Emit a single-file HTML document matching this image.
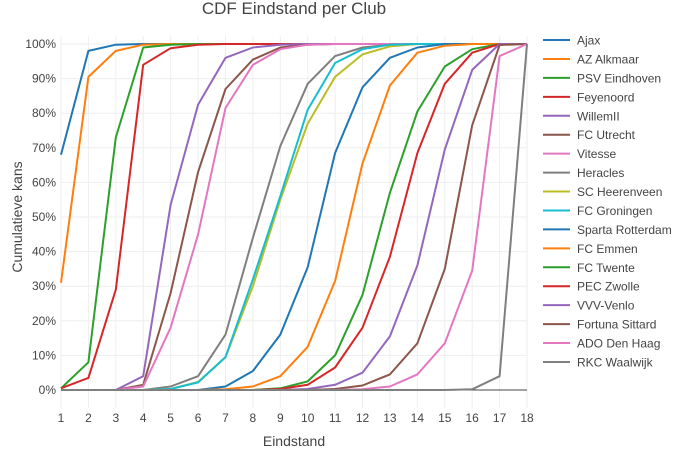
<!DOCTYPE html><html><head><style>body{margin:0;background:#fff}svg{display:block;font-family:"Liberation Sans",sans-serif}</style></head><body>
<svg id="s" width="700" height="450" xmlns="http://www.w3.org/2000/svg"></svg>
<script>
const s=document.getElementById('s');
const X0=61,XW=466/17,Y0=390,YH=346;
const x=v=>X0+(v-1)*XW, y=p=>Y0-p/100*YH;
let h='<rect width="700" height="450" fill="#fff"/>';
h+='<text x="294" y="14" font-size="17" fill="#444" text-anchor="middle">CDF Eindstand per Club</text>';
for(let i=1;i<=18;i++){h+=`<line x1="${x(i)}" x2="${x(i)}" y1="${y(100)-8}" y2="${Y0+18}" stroke="#eee"/>`;h+=`<text x="${x(i)}" y="422" font-size="12" fill="#444" text-anchor="middle">${i}</text>`;}
for(let p=0;p<=100;p+=10){h+=`<line x1="${X0}" x2="${x(18)}" y1="${y(p)}" y2="${y(p)}" stroke="${p?'#eee':'#444'}" stroke-width="1"/>`;h+=`<text x="56" y="${y(p)+4}" font-size="12" fill="#444" text-anchor="end">${p}%</text>`;}
h+=`<text x="294" y="446" font-size="14" fill="#444" text-anchor="middle">Eindstand</text>`;
h+=`<text transform="translate(22,217) rotate(-90)" font-size="14" fill="#444" text-anchor="middle">Cumulatieve kans</text>`;
const C=['#1f77b4','#ff7f0e','#2ca02c','#d62728','#9467bd','#8c564b','#e377c2','#7f7f7f','#bcbd22','#17becf'];
const D=[["Ajax",{1:68,2:98,3:99.8,4:100}],
["AZ Alkmaar",{1:31,2:90.5,3:98,4:99.8,5:100}],
["PSV Eindhoven",{1:0.5,2:8,3:73,4:99,5:99.8,6:100}],
["Feyenoord",{1:0.5,2:3.5,3:29,4:94,5:98.8,6:99.8,7:100}],
["WillemII",{3:0,4:4,5:53.5,6:82.5,7:96,8:99,9:99.8,10:100}],
["FC Utrecht",{3:0,4:1.5,5:28,6:63,7:87,8:95.5,9:99,10:99.8,11:100}],
["Vitesse",{3:0,4:1,5:18,6:45,7:81.5,8:94,9:98.5,10:99.8,11:100}],
["Heracles",{4:0,5:1,6:4,7:16,8:44,9:70.5,10:88.5,11:96.5,12:99,13:99.8,14:100}],
["SC Heerenveen",{4:0,5:0.3,6:2.3,7:9.5,8:30,9:55,10:77,11:90.5,12:97,13:99.3,14:100}],
["FC Groningen",{4:0,5:0.3,6:2.2,7:9.5,8:32,9:56,10:81,11:94.5,12:98.5,13:99.8,14:100}],
["Sparta Rotterdam",{6:0,7:1,8:5.5,9:16,10:35.5,11:68.5,12:87.5,13:96,14:99,15:100}],
["FC Emmen",{7:0.2,8:1,9:4,10:12.5,11:31.5,12:65.5,13:88,14:97.5,15:99.5,16:100}],
["FC Twente",{8:0,9:0.5,10:2.5,11:10,12:27.5,13:57,14:80.5,15:93.5,16:98.5,17:100}],
["PEC Zwolle",{8:0,9:0.3,10:1.5,11:6.5,12:18,13:38.5,14:68.5,15:88.5,16:97.5,17:100}],
["VVV-Venlo",{9:0,10:0.3,11:1.5,12:5,13:15.5,14:36,15:69.5,16:92.5,17:100}],
["Fortuna Sittard",{10:0,11:0.3,12:1.3,13:4.5,14:13.5,15:35,16:76.5,17:99.7,18:100}],
["ADO Den Haag",{11:0,12:0.2,13:1,14:4.5,15:13.5,16:34.5,17:96.5,18:100}],
["RKC Waalwijk",{15:0,16:0.2,17:4,18:100}]];
let lg='';
D.forEach(([n,m],i)=>{const c=C[i%10];let pts=[];
for(let k=1;k<=18;k++){let v=(k in m)?m[k]:(k<Math.min(...Object.keys(m).map(Number))?0:100);pts.push(x(k).toFixed(1)+','+y(v).toFixed(1));}
h+=`<polyline points="${pts.join(' ')}" fill="none" stroke="${c}" stroke-width="2" stroke-linejoin="round"/>`;
const ly=40+i*18.94;lg+=`<line x1="543" x2="570" y1="${ly}" y2="${ly}" stroke="${c}" stroke-width="2"/><text x="577" y="${ly+4.5}" font-size="12" fill="#444">${n}</text>`;});
s.innerHTML=h+lg;
</script></body></html>
